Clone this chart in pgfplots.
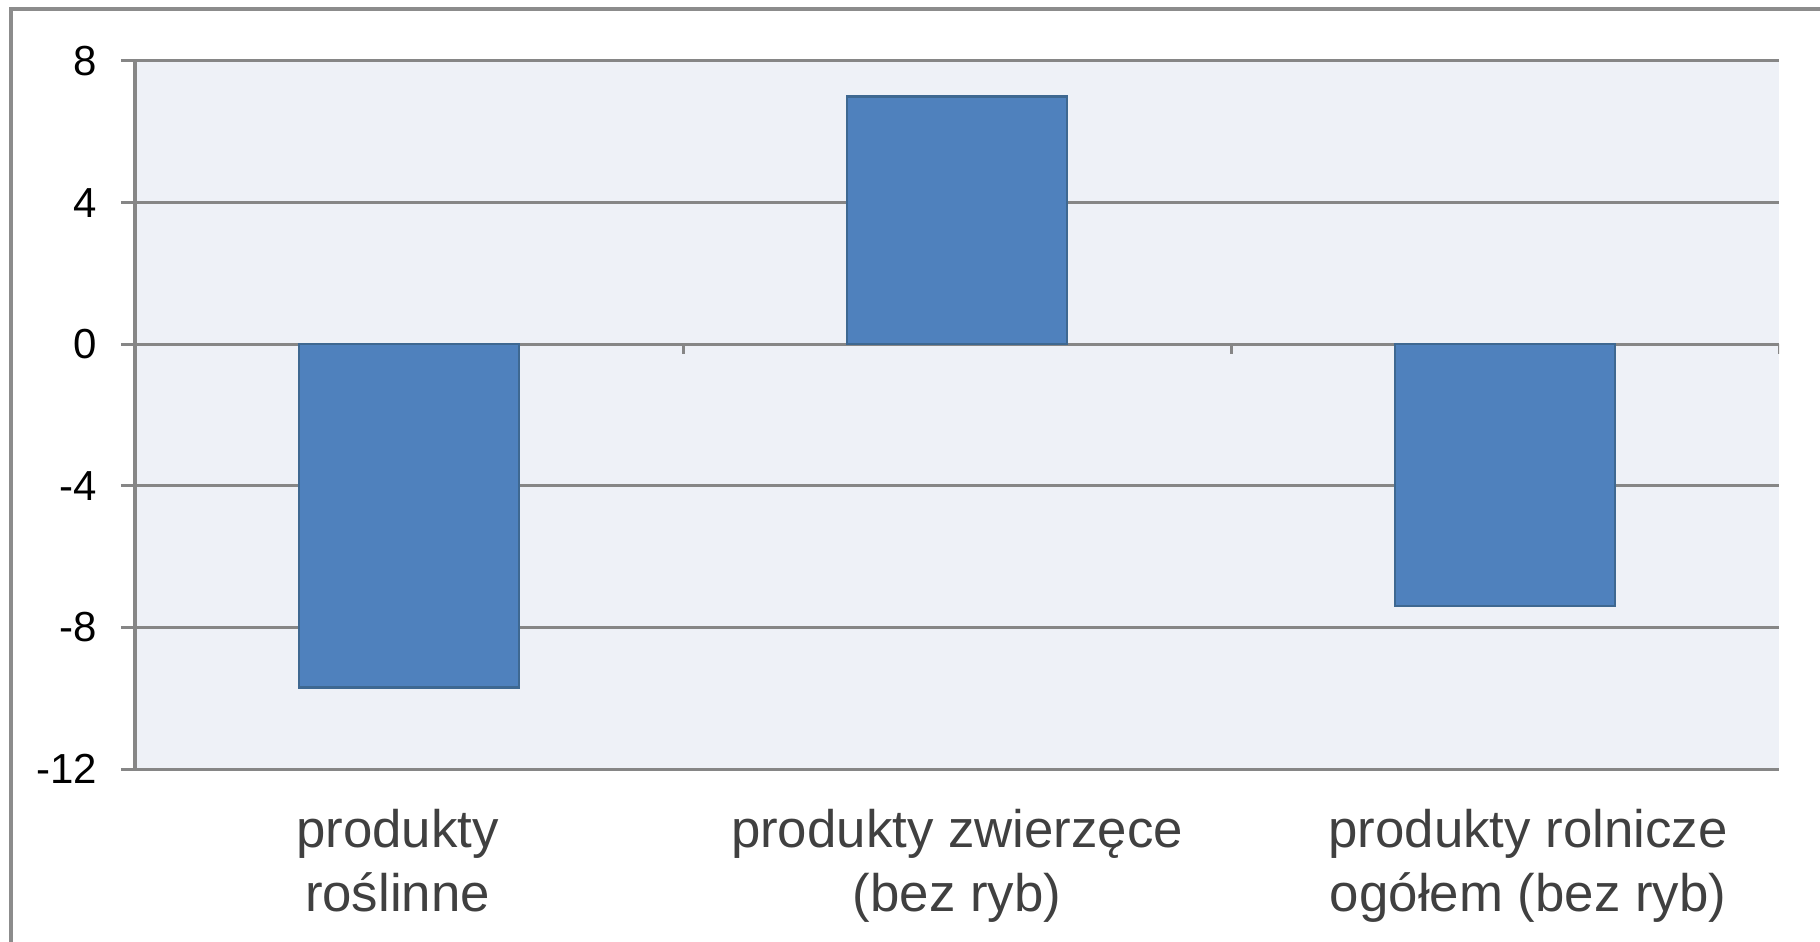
\documentclass[border=0pt]{standalone}
\usepackage{pgfplots}
\pgfplotsset{compat=1.18}
\usepackage{fontspec}
\setmainfont{Liberation Sans}
\definecolor{barfill}{RGB}{79,129,189}
\definecolor{bardraw}{RGB}{62,104,145}
\definecolor{gridgray}{RGB}{134,134,134}
\definecolor{plotbg}{RGB}{238,241,247}
\definecolor{labelgray}{RGB}{64,64,64}
\definecolor{framegray}{RGB}{140,140,140}
\begin{document}
\begin{tikzpicture}
\useasboundingbox (0,0) rectangle (455pt,235.5pt);
\draw[framegray, line width=0.8pt] (2.75pt,-10pt) -- (2.75pt,233.25pt) -- (470pt,233.25pt);
\begin{axis}[
  at={(33.75pt,43.25pt)}, anchor=south west,
  scale only axis, width=411pt, height=177pt,
  xmin=-0.5, xmax=2.5, ymin=-12, ymax=8,
  ytick={-12,-8,-4,0,4,8},
  xtick={-0.021,1,2.042},
  xticklabels={{produkty\\roślinne},{produkty zwierzęce\\(bez ryb)},{produkty rolnicze\\ogółem (bez ryb)}},
  axis x line*=bottom, axis y line*=left,
  x axis line style={draw=none},
  y axis line style={gridgray, line width=1.1pt, -},
  tick align=outside,
  major tick length=3.5pt,
  x tick style={draw=none},
  y tick style={gridgray, line width=0.75pt},
  ymajorgrids,
  major grid style={gridgray, line width=0.75pt},
  axis background/.style={fill=plotbg},
  /pgf/number format/assume math mode=true,
  yticklabel style={font=\fontsize{10.5}{12}\selectfont, black, xshift=-2.5pt},
  xticklabel style={font=\fontsize{13.2}{16}\selectfont, text=labelgray, align=center, anchor=north, yshift=-3pt},
  ybar, bar width=55pt,
]
\addplot[fill=barfill, draw=bardraw, line width=0.6pt] coordinates {(0,-9.7) (1,7.0) (2,-7.4)};
\draw[gridgray, line width=0.75pt] (axis cs:0.5,0) -- ([yshift=-2.5pt]axis cs:0.5,0);
\draw[gridgray, line width=0.75pt] (axis cs:1.5,0) -- ([yshift=-2.5pt]axis cs:1.5,0);
\draw[gridgray, line width=0.75pt] (axis cs:2.5,0) -- ([yshift=-2.5pt]axis cs:2.5,0);
\end{axis}
\end{tikzpicture}
\end{document}
